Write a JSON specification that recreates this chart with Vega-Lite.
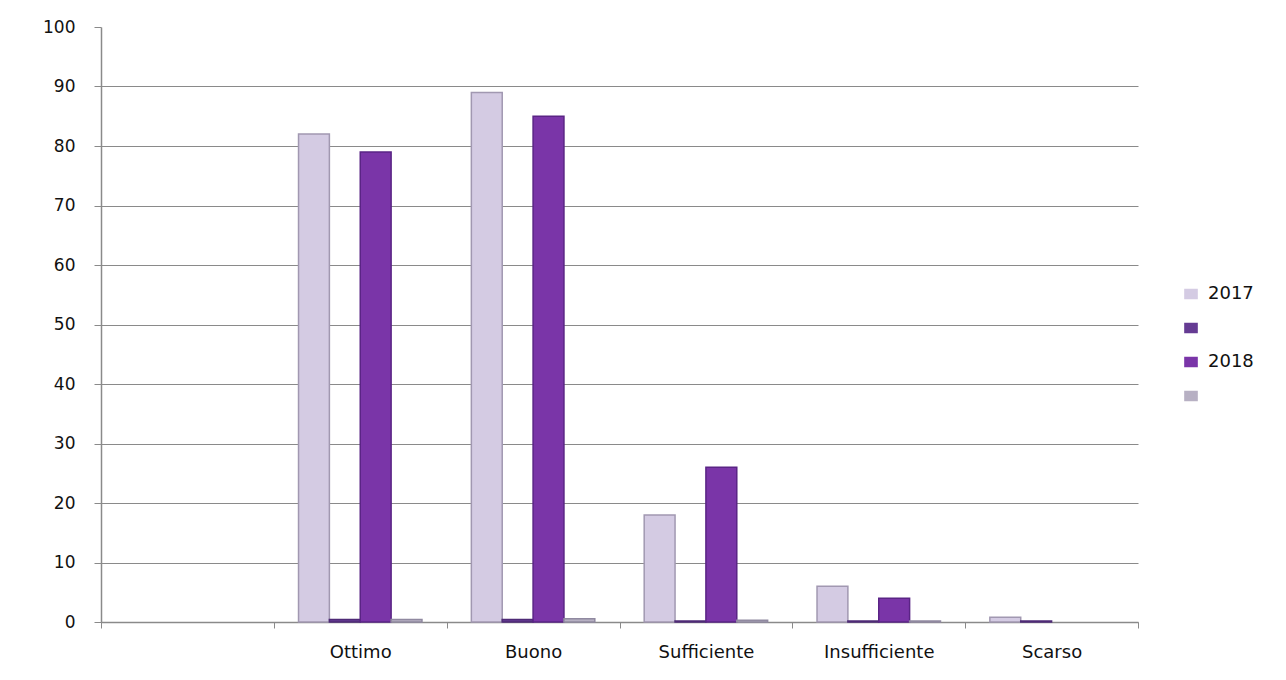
{
  "$schema": "https://vega.github.io/schema/vega-lite/v6.json",
  "autosize": {"type": "none"},
  "padding": {"left": 101, "top": 27, "right": 148, "bottom": 58},
  "width": 1037,
  "height": 595,
  "background": "#ffffff",
  "data": {
    "values": [
      {"giudizio": "Ottimo", "serie": "2017", "valore": 82},
      {"giudizio": "Ottimo", "serie": "serie 2", "valore": 0.4},
      {"giudizio": "Ottimo", "serie": "2018", "valore": 79},
      {"giudizio": "Ottimo", "serie": "serie 4", "valore": 0.4},
      {"giudizio": "Buono", "serie": "2017", "valore": 89},
      {"giudizio": "Buono", "serie": "serie 2", "valore": 0.4},
      {"giudizio": "Buono", "serie": "2018", "valore": 85},
      {"giudizio": "Buono", "serie": "serie 4", "valore": 0.55},
      {"giudizio": "Sufficiente", "serie": "2017", "valore": 18},
      {"giudizio": "Sufficiente", "serie": "serie 2", "valore": 0.15},
      {"giudizio": "Sufficiente", "serie": "2018", "valore": 26},
      {"giudizio": "Sufficiente", "serie": "serie 4", "valore": 0.3},
      {"giudizio": "Insufficiente", "serie": "2017", "valore": 6},
      {"giudizio": "Insufficiente", "serie": "serie 2", "valore": 0.15},
      {"giudizio": "Insufficiente", "serie": "2018", "valore": 4},
      {"giudizio": "Insufficiente", "serie": "serie 4", "valore": 0.15},
      {"giudizio": "Scarso", "serie": "2017", "valore": 0.8},
      {"giudizio": "Scarso", "serie": "serie 2", "valore": 0.15},
      {"giudizio": "Scarso", "serie": "2018", "valore": 0},
      {"giudizio": "Scarso", "serie": "serie 4", "valore": 0}
    ]
  },
  "mark": {"type": "bar", "strokeWidth": 1.5},
  "encoding": {
    "x": {
      "field": "giudizio",
      "type": "nominal",
      "scale": {
        "domain": [" ", "Ottimo", "Buono", "Sufficiente", "Insufficiente", "Scarso"],
        "paddingInner": 0,
        "paddingOuter": 0
      },
      "axis": {
        "title": null,
        "labelAngle": 0,
        "tickBand": "extent",
        "tickSize": 6,
        "tickColor": "#8a8a8a",
        "domainColor": "#8a8a8a",
        "domainWidth": 1.5,
        "labelFont": "DejaVu Sans",
        "labelFontSize": 18,
        "labelColor": "#111111",
        "labelPadding": 15,
        "grid": false
      }
    },
    "xOffset": {
      "field": "serie",
      "type": "nominal",
      "scale": {
        "domain": ["2017", "serie 2", "2018", "serie 4"],
        "paddingInner": 0,
        "paddingOuter": 0.8
      }
    },
    "y": {
      "field": "valore",
      "type": "quantitative",
      "scale": {"domain": [0, 100], "nice": false},
      "axis": {
        "title": null,
        "values": [0, 10, 20, 30, 40, 50, 60, 70, 80, 90, 100],
        "tickSize": 7,
        "tickColor": "#8a8a8a",
        "domainColor": "#8a8a8a",
        "domainWidth": 1.5,
        "gridColor": "#8a8a8a",
        "gridWidth": 1,
        "gridOpacity": {"condition": {"test": "datum.value === 100", "value": 0}, "value": 1},
        "labelFont": "DejaVu Sans",
        "labelFontSize": 17,
        "labelColor": "#111111",
        "labelPadding": 19
      }
    },
    "strokeOpacity": {
      "condition": {"test": "datum.valore === 0", "value": 0},
      "value": 1
    },
    "color": {
      "field": "serie",
      "type": "nominal",
      "scale": {
        "domain": ["2017", "serie 2", "2018", "serie 4"],
        "range": ["#d4cbe3", "#653b93", "#7a35a8", "#b7b0c3"]
      },
      "legend": {
        "title": null,
        "orient": "none",
        "legendX": 1081,
        "legendY": 258,
        "symbolType": "M-1.3,-1L1.3,-1L1.3,1L-1.3,1Z",
        "symbolSize": 110,
        "symbolStrokeWidth": 0,
        "labelFont": "DejaVu Sans",
        "labelFontSize": 18,
        "labelColor": "#111111",
        "labelOffset": 8,
        "rowPadding": 16,
        "labelExpr": "datum.label === '2017' || datum.label === '2018' ? datum.label : ''"
      }
    },
    "stroke": {
      "field": "serie",
      "type": "nominal",
      "scale": {
        "domain": ["2017", "serie 2", "2018", "serie 4"],
        "range": ["#a198b1", "#4e2a76", "#5a2485", "#9089a0"]
      },
      "legend": null
    }
  },
  "config": {
    "view": {"stroke": null}
  }
}
